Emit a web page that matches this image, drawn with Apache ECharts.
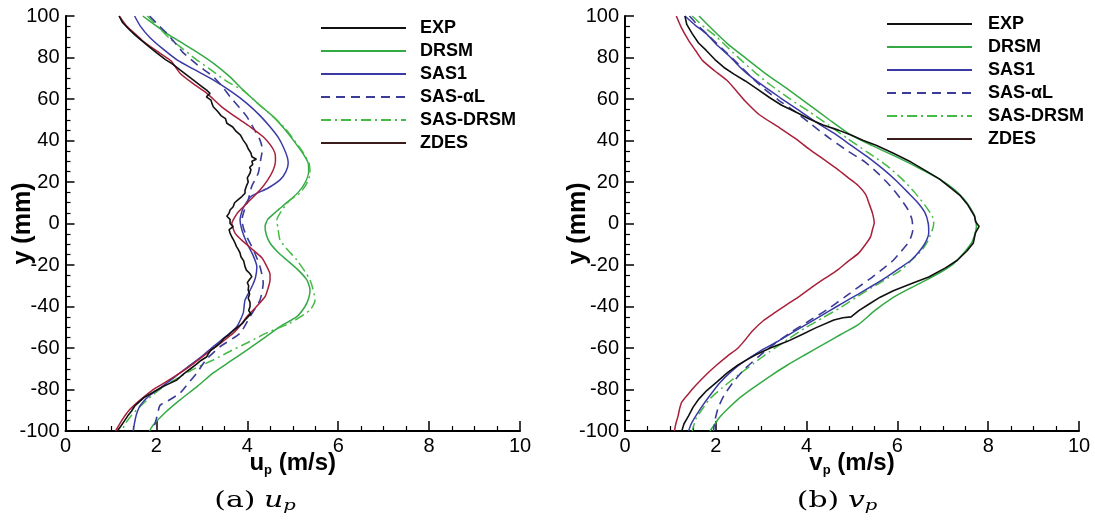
<!DOCTYPE html>
<html><head><meta charset="utf-8">
<script src="https://cdn.jsdelivr.net/npm/echarts@6/dist/echarts.min.js"></script>
<style>html,body{margin:0;padding:0;background:#fff}#c{width:1095px;height:530px}</style>
</head><body><div id="c"></div>
<script>
// ---------- data ----------
const seriesNames = ['EXP', 'DRSM', 'SAS1', 'SAS-\u03b1L', 'SAS-DRSM', 'ZDES'];
const xTickRange = [0, 10, 2];      // min, max, interval
const yTickRange = [-100, 100, 20]; // min, max, interval
const xTitleLeft = 'u';
const xTitleRight = 'v';
const captionLeft = '(a)';
const captionRight = '(b)';

// Left panel: u_p (m/s) vs y (mm)  -> [u, y]
const upEXP = [[1.18,100],[1.25,97],[1.38,94],[1.52,91],[1.65,88.6],[1.85,85],[2.02,82],[2.2,79],[2.35,76.9],[2.52,74],[2.7,71],[2.88,68],[3.0,66],[3.12,64],[3.18,62.7],[3.1,61],[3.2,59.5],[3.22,58],[3.25,56.3],[3.35,54],[3.42,52],[3.52,50.5],[3.55,48.3],[3.68,46.5],[3.75,44.5],[3.85,42.6],[3.91,40.2],[3.98,38],[4.02,36],[4.08,34],[4.1,32.2],[4.2,31],[4.1,30],[4.12,28.5],[4.05,27],[4.08,26],[4.06,24.2],[4.0,22],[4.02,20],[3.98,18],[3.95,16],[3.95,14.6],[3.88,13],[3.8,11.5],[3.72,10],[3.69,8.1],[3.62,6.5],[3.6,5],[3.55,3.5],[3.62,2],[3.62,0],[3.69,-1.5],[3.6,-3],[3.62,-4.6],[3.66,-6.5],[3.7,-8],[3.73,-9.4],[3.76,-11],[3.8,-12.5],[3.84,-14.2],[3.86,-16],[3.92,-18],[3.95,-20.8],[3.98,-22.5],[4.05,-24],[4.1,-25.6],[4.05,-27],[4.0,-28.5],[4.03,-30],[4.02,-32],[4.05,-34],[4.02,-36],[4.06,-38],[4.06,-40],[4.03,-42],[4.08,-43.5],[4.02,-44.9],[3.95,-46.5],[3.9,-48],[3.8,-49.7],[3.7,-51.5],[3.6,-53.5],[3.48,-55.5],[3.4,-57.6],[3.3,-59.5],[3.2,-61],[3.15,-62.5],[3.11,-64.2],[2.98,-66],[2.87,-68],[2.75,-70],[2.6,-72.5],[2.45,-75.4],[2.2,-78],[1.95,-81],[1.72,-84],[1.53,-87.8],[1.45,-90.5],[1.37,-92.7],[1.3,-95],[1.22,-97.6],[1.14,-100]];
const upDRSM = [[1.7,100],[1.95,96],[2.24,91.4],[2.52,87.6],[2.9,82.5],[3.25,77.3],[3.6,71],[3.91,64.3],[4.25,57.5],[4.57,51.5],[4.82,45.5],[5.01,40.2],[5.2,34.5],[5.34,29.1],[5.35,25],[5.28,20],[5.12,15],[4.92,11],[4.65,6],[4.45,2],[4.39,-1.5],[4.42,-5.5],[4.5,-9.4],[4.68,-14],[4.87,-17.6],[5.1,-22],[5.31,-27.2],[5.38,-32],[5.35,-36],[5.27,-40],[5.09,-44.9],[4.72,-49.7],[4.35,-55.5],[3.99,-61],[3.62,-66.5],[3.25,-72],[2.9,-78.5],[2.52,-85],[2.2,-91],[1.92,-97.4],[1.85,-100]];
const upSAS1 = [[1.52,100],[1.65,95],[1.85,89.8],[2.15,84],[2.47,78.6],[2.85,74],[3.25,69.2],[3.65,63.5],[3.99,57.9],[4.28,52],[4.5,46.6],[4.68,41.5],[4.79,37],[4.88,32],[4.9,29],[4.85,25],[4.72,21],[4.45,17],[4.08,13],[3.9,7],[3.84,1.7],[3.88,-3],[3.99,-9.4],[4.12,-15],[4.21,-20.8],[4.18,-26],[4.1,-30.5],[3.95,-36.9],[3.91,-43.2],[3.77,-49.7],[3.55,-54],[3.3,-58.5],[3.0,-64],[2.7,-69],[2.4,-74],[2.1,-79],[1.85,-82.9],[1.65,-87.5],[1.56,-92],[1.52,-96],[1.49,-100]];
const upSASaL = [[1.85,100],[2.05,95.5],[2.24,91.4],[2.45,86],[2.58,82.5],[2.9,76.5],[3.25,70.8],[3.45,66],[3.62,61.1],[3.82,56],[3.99,51.5],[4.15,45.5],[4.28,40.2],[4.33,36],[4.32,33.8],[4.28,29],[4.24,24.2],[4.1,18],[4.02,11.3],[3.93,6],[3.88,1.7],[3.92,-2.5],[3.99,-6.4],[4.15,-13.5],[4.28,-20.8],[4.35,-28.7],[4.28,-36.9],[4.06,-44.9],[3.84,-52.9],[3.4,-59.4],[3.1,-65.5],[2.89,-72],[2.7,-77],[2.52,-81.7],[2.25,-85.5],[2.08,-87.6],[2.0,-94.1],[1.92,-100]];
const upSASDRSM = [[1.8,100],[2.05,94.5],[2.3,89],[2.52,85.2],[2.85,79.5],[3.2,74],[3.55,68.5],[3.91,64],[4.25,57.5],[4.57,51.5],[4.85,45.5],[5.03,40.2],[5.22,34.5],[5.36,29],[5.38,24],[5.3,19],[5.15,14.5],[4.94,11.3],[4.75,6],[4.65,1.7],[4.68,-3],[4.72,-8],[4.9,-13],[5.09,-17.6],[5.38,-27.2],[5.49,-36.9],[5.38,-41.7],[4.94,-48],[4.45,-52.5],[3.99,-57.6],[3.6,-61.8],[3.25,-65.8],[2.85,-69.8],[2.52,-73.8],[2.2,-78],[1.9,-83],[1.65,-88],[1.45,-92.5],[1.3,-97],[1.25,-100]];
const upZDES = [[1.18,100],[1.35,95],[1.55,91],[1.69,88.2],[1.95,84],[2.15,81],[2.32,78.4],[2.52,72.4],[2.8,67.5],[3.11,62.7],[3.45,56],[3.84,49.9],[4.1,46],[4.35,41.8],[4.52,37.5],[4.61,33.8],[4.62,30],[4.57,25.8],[4.45,21],[4.28,16.1],[3.99,9.7],[3.8,5.5],[3.69,1.7],[3.66,0],[3.73,-4.6],[3.9,-8.5],[4.13,-12.8],[4.32,-16.5],[4.43,-20.8],[4.5,-24.5],[4.5,-27.2],[4.46,-31],[4.39,-35.3],[4.13,-41.7],[3.99,-44.9],[3.85,-49],[3.69,-52.9],[3.42,-57.5],[3.11,-62.6],[2.82,-67.5],[2.52,-72],[2.2,-76.5],[1.9,-80.5],[1.62,-85.5],[1.4,-90],[1.25,-94.5],[1.1,-100]];

// Right panel: v_p (m/s) vs y (mm) -> [v, y]
const vpEXP = [[1.32,100],[1.36,96],[1.48,91.5],[1.62,87],[1.79,83.4],[1.98,79],[2.18,75.2],[2.4,72],[2.65,68.7],[2.9,65],[3.19,60.6],[3.45,57],[3.74,54],[4.05,50.5],[4.36,47.5],[4.7,45],[4.98,42.6],[5.25,40],[5.53,37.7],[5.9,34],[6.3,29.6],[6.62,25.5],[6.93,21.4],[7.18,17],[7.39,13.3],[7.55,9],[7.7,3.5],[7.72,1],[7.8,-1.4],[7.72,-4.5],[7.67,-9.5],[7.52,-13.5],[7.32,-17.7],[7.05,-21.5],[6.69,-25.8],[6.3,-29],[5.91,-32.4],[5.62,-35.5],[5.37,-38.9],[5.15,-42],[4.98,-45],[4.8,-45.4],[4.6,-46.5],[4.2,-50.3],[3.9,-53.5],[3.58,-56.8],[3.2,-60],[2.88,-63.3],[2.7,-65.5],[2.49,-68.2],[2.25,-72],[2.02,-76.4],[1.8,-80.5],[1.63,-84.5],[1.5,-88.5],[1.4,-92.7],[1.3,-96.5],[1.25,-100]];
const vpDRSM = [[1.63,100],[1.95,93],[2.26,86.6],[2.7,79],[3.11,72],[3.6,64.5],[4.05,57.3],[4.5,50],[4.98,42.6],[5.45,37.5],[5.91,32.8],[6.45,27],[6.93,21.4],[7.25,16.5],[7.47,11.7],[7.62,7],[7.7,3.5],[7.74,-1.4],[7.7,-5.5],[7.63,-9.5],[7.45,-14.5],[7.24,-19.3],[6.95,-23.5],[6.61,-27.5],[6.25,-31.5],[5.91,-35.6],[5.5,-42],[5.14,-48.7],[4.75,-53.5],[4.36,-58.4],[3.95,-63.5],[3.58,-68.2],[3.2,-73.5],[2.8,-79.6],[2.5,-84.5],[2.26,-89.4],[2.08,-93.5],[1.95,-97.6],[1.87,-100]];
const vpSAS1 = [[1.32,100],[1.55,95.5],[1.79,91.5],[2.05,85.5],[2.33,80],[2.55,75],[2.8,70.3],[3.1,65.5],[3.42,60.6],[3.8,55],[4.2,49],[4.6,43.5],[4.98,37.7],[5.35,32],[5.68,26.3],[5.98,20.5],[6.23,15],[6.45,10],[6.61,5.1],[6.68,0],[6.69,-4.6],[6.61,-9.5],[6.48,-13.5],[6.3,-17.7],[6.05,-21.5],[5.76,-25.8],[5.45,-30],[5.14,-34],[4.82,-38],[4.51,-42],[4.12,-47],[3.74,-51.9],[3.35,-57],[2.96,-61.7],[2.62,-66.5],[2.33,-71.5],[2.08,-77],[1.87,-82.9],[1.7,-88],[1.56,-92.7],[1.46,-96.5],[1.4,-100]];
const vpSASaL = [[1.42,100],[1.65,94.5],[1.87,89.9],[2.18,83.5],[2.49,76.9],[2.76,71],[3.04,65.4],[3.38,59.5],[3.74,54],[4.12,47.5],[4.51,41],[4.9,35],[5.29,29.6],[5.58,24],[5.84,18.2],[6.05,12.5],[6.23,6.8],[6.32,2],[6.34,-3],[6.3,-6.5],[6.23,-9.5],[6.08,-13.5],[5.91,-17.7],[5.7,-21.5],[5.45,-25.8],[5.15,-30.5],[4.83,-35.6],[4.45,-41.5],[4.05,-47],[3.65,-52.5],[3.27,-58.4],[2.95,-64],[2.65,-69.8],[2.4,-76],[2.18,-82.9],[2.05,-89],[1.98,-95],[1.95,-100]];
const vpSASDRSM = [[1.48,100],[1.75,94.5],[2.02,89.9],[2.3,84],[2.57,78.5],[2.88,72.5],[3.19,67],[3.6,60.5],[4.05,54],[4.48,47.5],[4.9,41],[5.33,34.5],[5.76,28],[6.1,21.5],[6.38,15],[6.6,9],[6.77,3.5],[6.8,0],[6.77,-3],[6.68,-8],[6.54,-12.8],[6.32,-17.5],[6.07,-22.6],[5.78,-26.5],[5.45,-30.7],[5.1,-35.5],[4.75,-40.5],[4.35,-45.5],[3.97,-50.3],[3.58,-56],[3.19,-61.7],[2.83,-67.5],[2.49,-73.1],[2.15,-79],[1.87,-84.5],[1.7,-89.5],[1.56,-94.3],[1.48,-100]];
const vpZDES = [[1.13,100],[1.25,94],[1.4,88.3],[1.55,83.5],[1.71,78.5],[1.98,73.5],[2.26,68.7],[2.45,64],[2.65,58.9],[2.96,52.4],[3.42,45.9],[3.75,41],[4.05,36],[4.37,31],[4.67,26.3],[4.92,22],[5.14,18.2],[5.3,14],[5.37,10],[5.45,5],[5.49,0.2],[5.45,-3],[5.41,-6.3],[5.3,-10],[5.14,-14.4],[4.9,-18.5],[4.67,-22.6],[4.4,-26.5],[4.12,-30.7],[3.85,-35],[3.58,-38.9],[3.3,-43],[3.04,-47],[2.8,-51.9],[2.65,-56],[2.49,-60],[2.25,-64],[2.02,-68.2],[1.78,-73],[1.56,-78],[1.4,-82],[1.25,-86.1],[1.2,-89.5],[1.17,-92.7],[1.12,-96.5],[1.09,-100]];

// ---------- styles ----------
const SANS = 'Liberation Sans, Arial, sans-serif';
const SERIF = 'DejaVu Serif, serif';
const styles = {
  'EXP':      { color: '#111111', type: 'solid', width: 1.6, smooth: false, z: 6 },
  'DRSM':     { color: '#33aa44', type: 'solid', width: 1.5, smooth: 0.2, z: 3 },
  'SAS1':     { color: '#3a3aa6', type: 'solid', width: 1.5, smooth: 0.2, z: 4 },
  'SAS-\u03b1L':  { color: '#3c3c98', type: [9, 6], width: 1.6, smooth: 0.2, z: 4 },
  'SAS-DRSM': { color: '#44bb44', type: [10, 4, 2, 4], width: 1.5, smooth: 0.2, z: 3 },
  'ZDES':     { color: '#a8203a', type: 'solid', width: 1.5, smooth: 0.2, z: 5 }
};
const leftData = [upEXP, upDRSM, upSAS1, upSASaL, upSASDRSM, upZDES];
const rightData = [vpEXP, vpDRSM, vpSAS1, vpSASaL, vpSASDRSM, vpZDES];

function mkSeries(name, data, idx) {
  const s = styles[name];
  return {
    type: 'line', name: name, data: data, xAxisIndex: idx, yAxisIndex: idx,
    symbol: 'none', showSymbol: false, smooth: s.smooth, z: s.z,
    color: s.color, animation: false,
    lineStyle: { color: s.color, width: s.width, type: s.type }
  };
}
const series = [];
seriesNames.forEach((n, i) => series.push(mkSeries(n, leftData[i], 0)));
seriesNames.forEach((n, i) => series.push(mkSeries(n, rightData[i], 1)));

function mkXAxis(idx, letter) {
  return {
    type: 'value', gridIndex: idx, min: xTickRange[0], max: xTickRange[1], interval: xTickRange[2],
    axisLine: { show: true, onZero: false, lineStyle: { color: '#000', width: 2 } },
    axisTick: { show: true, inside: true, length: 10, lineStyle: { color: '#000', width: 1.5 } },
    minorTick: { show: true, splitNumber: 4, length: 5, lineStyle: { color: '#000', width: 1.2 } },
    splitLine: { show: false },
    axisLabel: { show: true, fontSize: 20, color: '#000', margin: 5, fontFamily: SANS },
    name: '{u|' + letter + '}{p|p}{u| (m/s)}',
    nameLocation: 'middle', nameGap: 19, nameMoveOverlap: false,
    nameTextStyle: {
      color: '#000',
      rich: {
        u: { fontSize: 24, fontWeight: 'bold', fontFamily: SANS, color: '#000' },
        p: { fontSize: 13, fontWeight: 'bold', fontFamily: SANS, color: '#000', padding: [14, 0, 0, 0] }
      }
    }
  };
}
function mkYAxis(idx, gap) {
  return {
    type: 'value', gridIndex: idx, min: yTickRange[0], max: yTickRange[1], interval: yTickRange[2],
    axisLine: { show: true, onZero: false, lineStyle: { color: '#000', width: 2 } },
    axisTick: { show: true, inside: true, length: 9, lineStyle: { color: '#000', width: 1.5 } },
    minorTick: { show: true, splitNumber: 4, length: 5, lineStyle: { color: '#000', width: 1.2 } },
    splitLine: { show: false },
    axisLabel: { show: true, fontSize: 20, color: '#000', margin: 6, fontFamily: SANS },
    name: 'y (mm)', nameLocation: 'middle', nameRotate: 90, nameGap: gap, nameMoveOverlap: false,
    nameTextStyle: { fontSize: 25, fontWeight: 'bold', fontFamily: SANS, color: '#000' }
  };
}
function mkLegend(left, top, pad) {
  return {
    left: left, top: top, padding: 0, orient: 'vertical', itemWidth: 85, itemHeight: 14, itemGap: 5,
    selectedMode: false,
    lineStyle: { width: 2 },
    itemStyle: { opacity: 0 },
    data: seriesNames.map(n => n === 'ZDES'
      ? { name: n, lineStyle: { color: '#3a1c1c' } }
      : { name: n }),
    textStyle: { fontFamily: SANS, fontWeight: 'bold', fontSize: 18, color: '#000', padding: [0, 0, 0, pad] }
  };
}
function mkCaption(x, label, letter) {
  return {
    type: 'text', x: x, y: 501, scaleX: 1.3,
    style: {
      text: '{n|' + label + '}  {i|' + letter + '}{s|p}',
      align: 'center', verticalAlign: 'middle',
      rich: {
        n: { fontSize: 23, fontFamily: SERIF, fill: '#000' },
        i: { fontSize: 23, fontFamily: SERIF, fontStyle: 'italic', fill: '#000' },
        s: { fontSize: 15, fontFamily: SERIF, fontStyle: 'italic', fill: '#000', padding: [11, 0, 0, 0] }
      }
    }
  };
}

const chart = echarts.init(document.getElementById('c'), null, { renderer: 'canvas' });
chart.setOption({
  backgroundColor: '#fff',
  animation: false,
  grid: [
    { left: 65.5, top: 16, width: 454.5, height: 415, outerBoundsMode: 'none', containLabel: false },
    { left: 625, top: 16, width: 454, height: 415, outerBoundsMode: 'none', containLabel: false }
  ],
  xAxis: [mkXAxis(0, xTitleLeft), mkXAxis(1, xTitleRight)],
  yAxis: [mkYAxis(0, 30), mkYAxis(1, 34)],
  legend: [mkLegend(320, 19, 9), mkLegend(886, 15, 11)],
  graphic: [mkCaption(255, captionLeft, xTitleLeft), mkCaption(837, captionRight, xTitleRight)],
  series: series
});
</script>
</body></html>
